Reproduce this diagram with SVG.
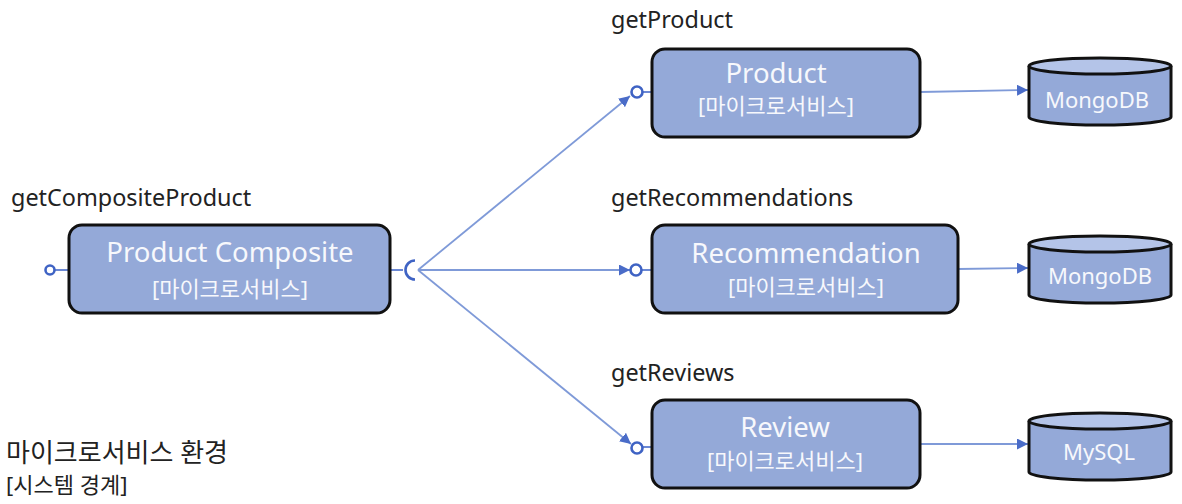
<svg xmlns="http://www.w3.org/2000/svg" width="1182" height="504" viewBox="0 0 1182 504">
<defs>
<style>
.box{fill:#94a9d8;stroke:#111;stroke-width:3}
.t1{font-family:"Noto Sans","Noto Sans CJK KR",sans-serif;font-size:27.5px;fill:#f7f8fc;text-anchor:middle}
.t2{font-family:"Noto Sans","Noto Sans CJK KR",sans-serif;font-size:22px;fill:#f7f8fc;text-anchor:middle}
.lbl{font-family:"Noto Sans","Noto Sans CJK KR",sans-serif;font-size:23.4px;fill:#222}
.db{font-family:"Noto Sans","Noto Sans CJK KR",sans-serif;font-size:22px;fill:#f7f8fc;text-anchor:middle}
.ln{stroke:#7f9ad8;stroke-width:1.8;fill:none}
.dl{stroke:#5b7bd0;stroke-width:1.8;fill:none}
.lol{fill:#fff;stroke:#3f63c4;stroke-width:2.6}
.cyl{fill:#94a9d8;stroke:#111;stroke-width:3}
.cyltop{fill:#b4c4e8;stroke:#111;stroke-width:3}
</style>
<marker id="ah2" viewBox="0 0 10 10" refX="10" refY="5" markerWidth="11" markerHeight="11" orient="auto" markerUnits="userSpaceOnUse">
<path d="M0,0 L10,5 L0,10 z" fill="#4a6cc8"/>
</marker>
</defs>

<g id="connectors">
<line class="dl" x1="55" y1="270" x2="69" y2="270"/>
<circle class="lol" cx="50" cy="270" r="4.5"/>
<line class="dl" x1="390" y1="270" x2="403" y2="270"/>
<path d="M415,260.5 A9.5,9.5 0 0 0 415,279.5" stroke="#3f63c4" stroke-width="2.6" fill="none"/>
<line class="ln" x1="418" y1="270" x2="630" y2="96" marker-end="url(#ah2)"/>
<line class="ln" x1="418" y1="270" x2="630" y2="270" marker-end="url(#ah2)"/>
<line class="ln" x1="418" y1="270" x2="631" y2="444" marker-end="url(#ah2)"/>
<line class="dl" x1="642" y1="92" x2="652" y2="92"/>
<circle class="lol" cx="637" cy="92" r="5.5"/>
<line class="dl" x1="641" y1="270" x2="652" y2="270"/>
<circle class="lol" cx="636" cy="270" r="5.5"/>
<line class="dl" x1="642" y1="447" x2="652" y2="447"/>
<circle class="lol" cx="637" cy="448" r="5.5"/>
<line class="ln" x1="920" y1="92" x2="1028" y2="90" marker-end="url(#ah2)"/>
<line class="ln" x1="958" y1="269" x2="1028" y2="268" marker-end="url(#ah2)"/>
<line class="ln" x1="920" y1="444" x2="1028" y2="444" marker-end="url(#ah2)"/>
</g>

<g id="product-composite">
<rect class="box" x="69" y="225" width="321" height="88" rx="13"/>
<text class="t1" x="230" y="262">Product Composite</text>
<text class="t2" x="230" y="297">[마이크로서비스]</text>
</g>

<g id="product">
<rect class="box" x="652" y="49" width="268" height="88" rx="13"/>
<text class="t1" x="776" y="83">Product</text>
<text class="t2" x="776" y="114">[마이크로서비스]</text>
</g>

<g id="recommendation">
<rect class="box" x="652" y="225" width="306" height="88" rx="13"/>
<text class="t1" x="806" y="263">Recommendation</text>
<text class="t2" x="806" y="295">[마이크로서비스]</text>
</g>

<g id="review">
<rect class="box" x="652" y="400" width="268" height="88" rx="13"/>
<text class="t1" x="785" y="437">Review</text>
<text class="t2" x="785" y="469">[마이크로서비스]</text>
</g>

<g id="db-product">
<path class="cyl" d="M1029,66 L1029,117 A71,8 0 0 0 1171,117 L1171,66"/>
<ellipse class="cyltop" cx="1100" cy="66" rx="71" ry="8"/>
<text class="db" x="1097" y="108">MongoDB</text>
</g>

<g id="db-recommendation">
<path class="cyl" d="M1029,244 L1029,295 A71,8 0 0 0 1171,295 L1171,244"/>
<ellipse class="cyltop" cx="1100" cy="244" rx="71" ry="8"/>
<text class="db" x="1100" y="284">MongoDB</text>
</g>

<g id="db-review">
<path class="cyl" d="M1029,421 L1029,472 A71,8 0 0 0 1171,472 L1171,421"/>
<ellipse class="cyltop" cx="1100" cy="421" rx="71" ry="8"/>
<text class="db" x="1099" y="460">MySQL</text>
</g>

<g id="labels">
<text class="lbl" x="11" y="206">getCompositeProduct</text>
<text class="lbl" x="611" y="28">getProduct</text>
<text class="lbl" x="611" y="206">getRecommendations</text>
<text class="lbl" x="611" y="381">getReviews</text>
</g>

<g id="boundary">
<text class="lbl" x="6" y="462" style="font-size:26px">마이크로서비스 환경</text>
<text class="lbl" x="6" y="493" style="font-size:22px">[시스템 경계]</text>
</g>
</svg>
